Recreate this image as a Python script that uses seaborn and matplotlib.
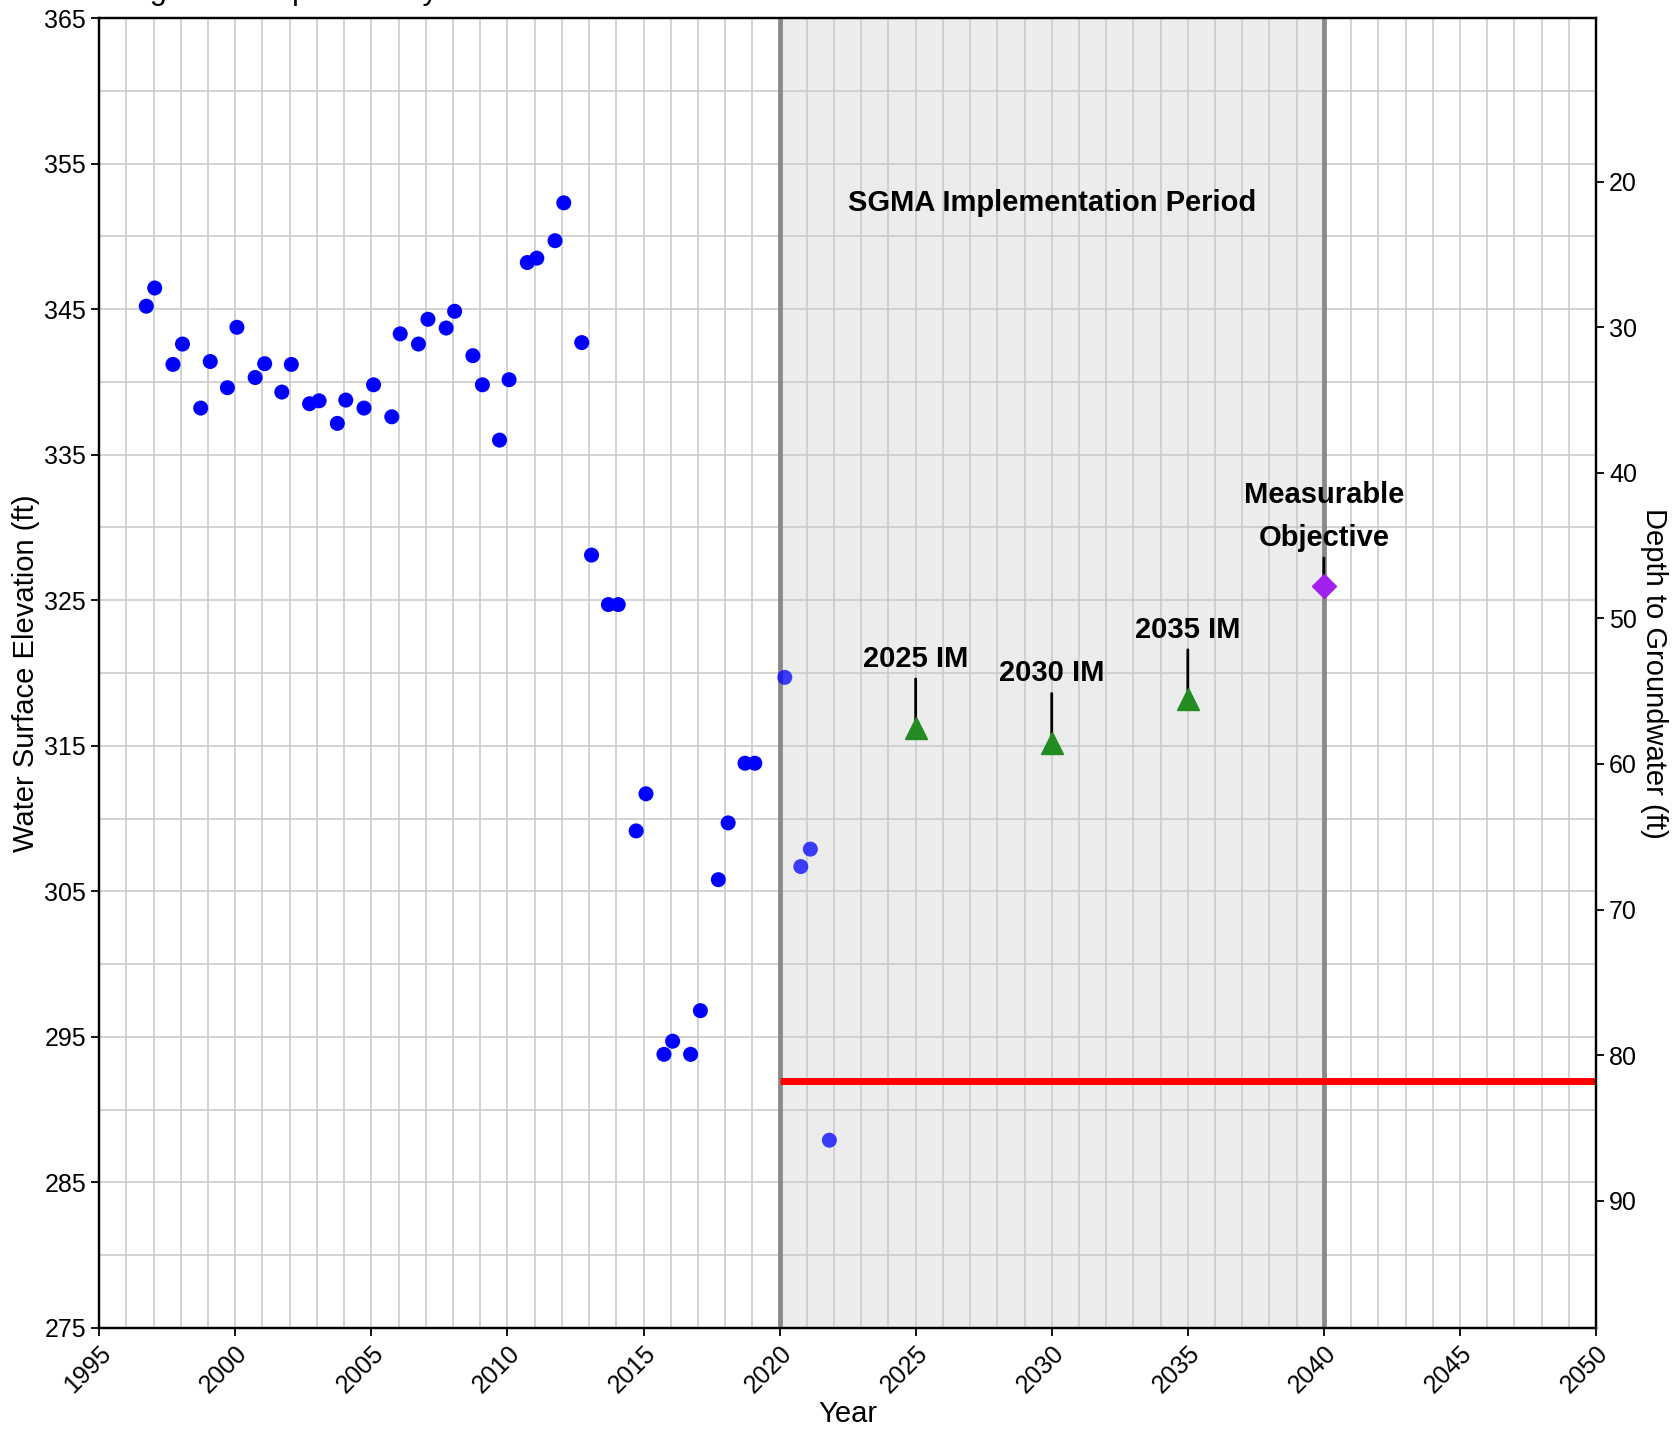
import numpy as np
import pandas as pd
import matplotlib
matplotlib.use('Agg')
import matplotlib.pyplot as plt
from matplotlib.ticker import MultipleLocator
import seaborn as sns

# historical water level measurements (decimal year, water surface elevation in ft)
hist_year = [1996.73, 1997.04, 1997.71, 1998.06, 1998.73, 1999.08, 1999.71, 2000.06,
             2000.73, 2001.08, 2001.71, 2002.06, 2002.73, 2003.08, 2003.75, 2004.06,
             2004.73, 2005.08, 2005.75, 2006.06, 2006.73, 2007.08, 2007.75, 2008.06,
             2008.73, 2009.08, 2009.71, 2010.06, 2010.73, 2011.08, 2011.75, 2012.07,
             2012.73, 2013.09, 2013.71, 2014.07, 2014.73, 2015.09, 2015.75, 2016.07,
             2016.73, 2017.09, 2017.75, 2018.11, 2018.73, 2019.09]
hist_wse = [345.2, 346.45, 341.2, 342.6, 338.2, 341.4, 339.6, 343.75,
            340.3, 341.25, 339.3, 341.2, 338.5, 338.7, 337.15, 338.75,
            338.2, 339.8, 337.6, 343.3, 342.6, 344.3, 343.7, 344.85,
            341.8, 339.8, 336.0, 340.15, 348.2, 348.5, 349.7, 352.3,
            342.7, 328.1, 324.7, 324.7, 309.15, 311.7, 293.8, 294.7,
            293.8, 296.8, 305.8, 309.7, 313.8, 313.8]

# measurements taken during the implementation period
recent_year = [2020.19, 2020.78, 2021.13, 2021.83]
recent_wse = [319.7, 306.7, 307.9, 287.9]

# interim milestones and measurable objective
im_years = [2025, 2030, 2035]
im_wse = [316.2, 315.2, 318.2]
im_labels = ["2025 IM", "2030 IM", "2035 IM"]
mo_year = 2040
mo_wse = 326.0
mo_label = "Measurable\nObjective"

# minimum threshold and SGMA period
mt_wse = 292.0
mt_start, mt_end = 2020, 2050
sgma_start, sgma_end = 2020, 2040
ground_surface = 373.75

sns.set_style("ticks")
plt.rcParams['font.family'] = ['Liberation Sans', 'DejaVu Sans']
plt.rcParams['text.color'] = 'black'
plt.rcParams['axes.labelcolor'] = 'black'
plt.rcParams['xtick.color'] = 'black'
plt.rcParams['ytick.color'] = 'black'

fig = plt.figure(figsize=(16.73, 14.29), dpi=100)
ax = fig.add_axes([0.0593, 0.0707, 0.8947, 0.9167])

hist_df = pd.DataFrame({"Year": hist_year, "WSE": hist_wse})
recent_df = pd.DataFrame({"Year": recent_year, "WSE": recent_wse})

# SGMA implementation period shading
ax.axvspan(sgma_start, sgma_end, color='gray', alpha=0.15, lw=0, zorder=0.2)
ax.text((sgma_start + sgma_end) / 2, 352.3, "SGMA Implementation Period",
        ha='center', va='center', fontsize=21, fontweight='bold', zorder=6)

# period boundaries and minimum threshold
for yr in [sgma_start, sgma_end]:
    ax.axvline(yr, color='gray', lw=3.5, alpha=0.9, zorder=3)
ax.hlines(mt_wse, mt_start, mt_end, color='red', lw=5, zorder=3.5)

sns.scatterplot(data=hist_df, x="Year", y="WSE", color='blue', s=117,
                edgecolor='none', ax=ax, zorder=5)
sns.scatterplot(data=recent_df, x="Year", y="WSE", color='blue', s=117, alpha=0.75,
                edgecolor='none', ax=ax, zorder=5)

ax.plot(im_years, im_wse, linestyle='none', marker='^', markersize=16,
        color='forestgreen', zorder=5)
ax.plot([mo_year], [mo_wse], linestyle='none', marker='D', markersize=12,
        color='#a020f0', zorder=5)

for yr, val, lab in zip(im_years + [mo_year], im_wse + [mo_wse], im_labels + [mo_label]):
    ax.annotate(lab, xy=(yr, val), xytext=(0, 50), textcoords='offset points',
                ha='center', va='center', fontsize=21, fontweight='bold',
                linespacing=1.7,
                arrowprops=dict(arrowstyle='-', color='black', lw=2,
                                shrinkA=2, shrinkB=0),
                zorder=4)

ax.set_xlim(1995, 2050)
ax.set_ylim(275, 365)
ax.xaxis.set_major_locator(MultipleLocator(5))
ax.xaxis.set_minor_locator(MultipleLocator(1))
ax.yaxis.set_minor_locator(MultipleLocator(5))
ax.set_yticks(np.arange(275, 366, 10))
ax.set_axisbelow(True)
ax.grid(which='major', color='#c8c8c8', lw=1.1)
ax.grid(which='minor', color='#c8c8c8', lw=1.1)
ax.tick_params(axis='both', which='major', labelsize=18, length=6, width=1.3,
               direction='out')
ax.tick_params(axis='both', which='minor', length=0)
plt.setp(ax.get_xticklabels(), rotation=45, ha='right', rotation_mode='anchor')
ax.set_xlabel("Year", fontsize=21, labelpad=2)
ax.set_ylabel("Water Surface Elevation (ft)", fontsize=21, labelpad=3)
for sp in ax.spines.values():
    sp.set_color('black')
    sp.set_linewidth(1.6)

# depth to groundwater on the right
ax2 = ax.twinx()
ax2.set_ylim(ground_surface - 275, ground_surface - 365)
ax2.set_yticks(np.arange(20, 91, 10))
ax2.tick_params(axis='y', labelsize=18, length=6, width=1.3)
ax2.set_ylabel("Depth to Groundwater (ft)", fontsize=21, rotation=270, labelpad=22)
for sp in ax2.spines.values():
    sp.set_color('black')
    sp.set_linewidth(1.6)

fig.text(0.0593, 1.0 + 1.5 / 1429, "Long-Term Depth History", fontsize=22, va='baseline')

fig.savefig("out.png", dpi=100)
plt.close(fig)
